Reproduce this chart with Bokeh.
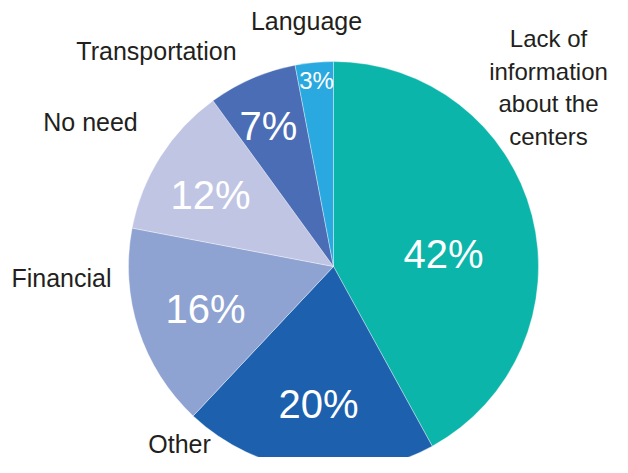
import math
from bokeh.plotting import figure
from bokeh.models import Range1d, ColumnDataSource
from bokeh.core.properties import value
from bokeh.embed import file_html
from bokeh.resources import INLINE

categories = ["Lack of\ninformation\nabout the\ncenters", "Other", "Financial", "No need", "Transportation", "Language"]
percents = [42, 20, 16, 12, 7, 3]
colors = ["#0bb5a9", "#1c60ae", "#8fa3d2", "#c1c5e4", "#4b6db6", "#2aa9e0"]
pct_labels = ["42%", "20%", "16%", "12%", "7%", "3%"]

# layout (pixels)
W, H = 612, 457
cx, cy, R = 333, 191, 205
pct_offsets = [(110, -13), (-15, 137), (-128, 42), (-123, -72), (-65, -141), (-17, -186)]
pct_sizes = ["40px", "40px", "40px", "40px", "40px", "24px"]
cat_pos = [(548, 370), (179, 14), (61, 180), (90, 336), (156, 407), (306, 437)]
cat_sizes = ["24px", "25px", "25px", "25px", "25px", "25px"]

total = sum(percents)
starts, ends = [], []
acc = 0
for v in percents:
    starts.append(math.pi / 2 - 2 * math.pi * acc / total)
    acc += v
    ends.append(math.pi / 2 - 2 * math.pi * acc / total)

p = figure(width=W, height=H, x_range=Range1d(0, W), y_range=Range1d(0, H),
           output_backend="svg", toolbar_location=None, min_border=0)
p.axis.visible = False
p.grid.visible = False
p.outline_line_color = None
p.background_fill_color = "white"

src = ColumnDataSource(dict(start=starts, end=ends, color=colors))
p.wedge(x=cx, y=cy, radius=R, start_angle="start", end_angle="end", direction="clock",
        fill_color="color", line_color="white", line_width=0.6, line_alpha=0.6, source=src)

for lab, (dx, dy), fs in zip(pct_labels, pct_offsets, pct_sizes):
    p.text(x=[cx + dx], y=[cy - dy], text=[lab], text_color="white",
           text_font=value("Liberation Sans"), text_font_size=fs,
           text_align="center", text_baseline="middle")

for cat, (x, y), fs in zip(categories, cat_pos, cat_sizes):
    p.text(x=[x], y=[y], text=[cat], text_color="#231f20",
           text_font=value("Liberation Sans"), text_font_size=fs,
           text_align="center", text_baseline="middle", text_line_height=1.2)

open("out.html", "w").write(file_html(p, INLINE))
